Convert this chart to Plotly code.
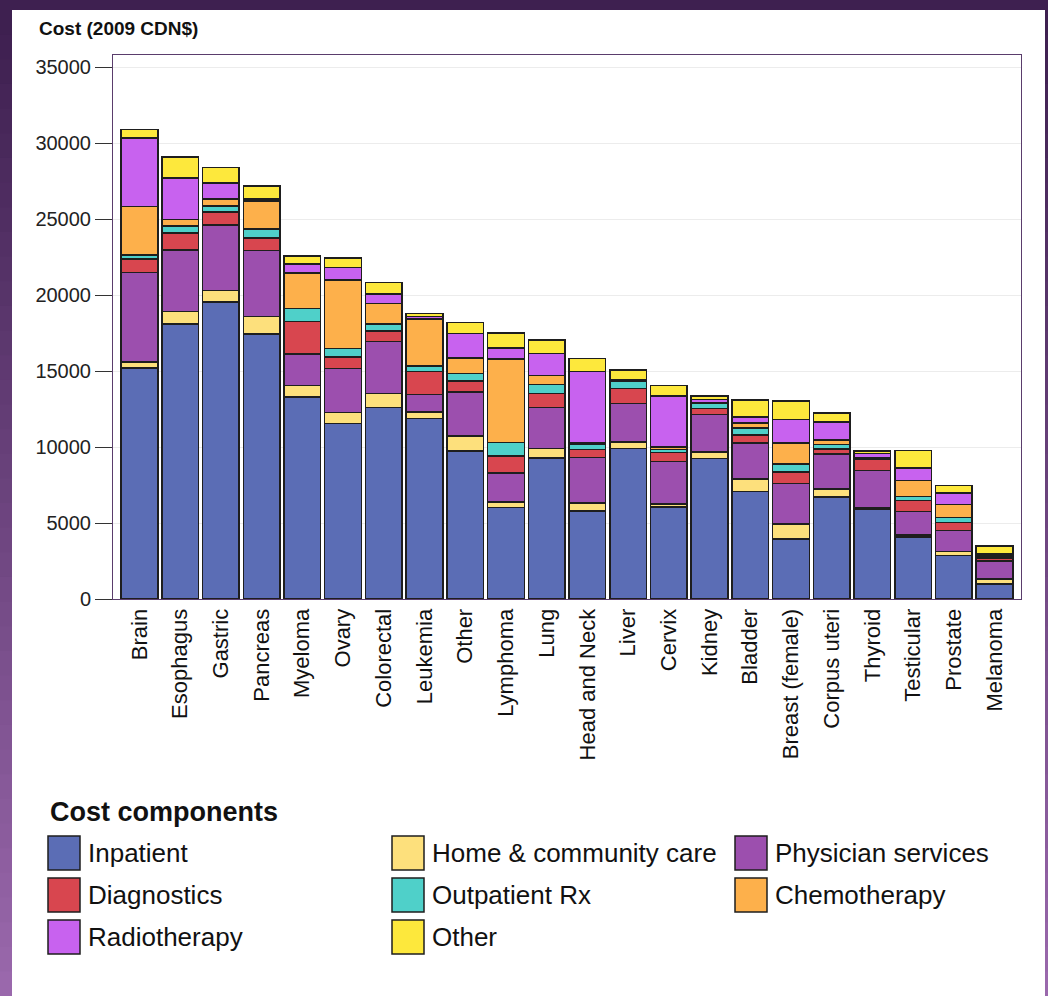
import plotly.graph_objects as go

categories = ["Brain", "Esophagus", "Gastric", "Pancreas", "Myeloma", "Ovary", "Colorectal",
              "Leukemia", "Other", "Lymphoma", "Lung", "Head and Neck", "Liver", "Cervix",
              "Kidney", "Bladder", "Breast (female)", "Corpus uteri", "Thyroid", "Testicular",
              "Prostate", "Melanoma"]

inpatient = [15200, 18100, 19570, 17440, 13300, 11560, 12600, 11890, 9730, 6030, 9290, 5810,
             9910, 6060, 9250, 7090, 3960, 6720, 5880, 4080, 2860, 990]
home_care = [400, 840, 730, 1170, 770, 710, 920, 420, 990, 360, 620, 510,
             440, 190, 440, 820, 970, 530, 110, 150, 260, 330]
physician = [5900, 4050, 4340, 4330, 2050, 2900, 3440, 1160, 2910, 1910, 2690, 3010,
             2510, 2820, 2460, 2370, 2670, 2310, 2480, 1540, 1390, 1190]
diagnostics = [900, 1100, 830, 840, 2150, 770, 700, 1500, 720, 1100, 920, 510,
               1010, 590, 400, 510, 770, 330, 710, 700, 530, 180]
outpatient_rx = [250, 460, 400, 590, 860, 550, 440, 370, 490, 920, 610, 330,
                 440, 180, 330, 480, 520, 280, 60, 290, 330, 100]
chemotherapy = [3200, 440, 480, 1830, 2320, 4530, 1360, 3090, 1030, 5470, 600, 110,
                70, 180, 50, 330, 1390, 290, 50, 1030, 840, 100]
radiotherapy = [4500, 2730, 1040, 150, 610, 820, 620, 180, 1610, 740, 1450, 4690,
                40, 3340, 210, 400, 1540, 1180, 290, 840, 770, 80]
other_cost = [550, 1390, 1010, 860, 510, 620, 770, 190, 730, 970, 860, 880,
              660, 710, 220, 1100, 1210, 620, 150, 1150, 480, 530]

y_ticks = [0, 5000, 10000, 15000, 20000, 25000, 30000, 35000]

series = [
    ("Inpatient", inpatient, "#5b6db5"),
    ("Home & community care", home_care, "#fde07c"),
    ("Physician services", physician, "#9c4fae"),
    ("Diagnostics", diagnostics, "#d8464f"),
    ("Outpatient Rx", outpatient_rx, "#4fd0c9"),
    ("Chemotherapy", chemotherapy, "#fdb04b"),
    ("Radiotherapy", radiotherapy, "#c862ef"),
    ("Other", other_cost, "#fde83c"),
]
legend_order = ["Inpatient", "Home & community care", "Physician services",
                "Diagnostics", "Outpatient Rx", "Chemotherapy",
                "Radiotherapy", "Other"]

FONT = "Liberation Sans, Arial, sans-serif"
W, H = 1048, 996
L, R, T, B = 113, 1021, 55, 599  # plot area in pixels


def fx(px):
    return (px - L) / (R - L)


def fy(py):
    return (B - py) / (B - T)


fig = go.Figure()
for name, vals, col in series:
    fig.add_trace(go.Bar(
        x=categories, y=vals, name=name,
        marker=dict(color=col, line=dict(color="#1e1e1e", width=1.5)),
        showlegend=False,
    ))

shapes = []
# white page area
shapes.append(dict(type="rect", xref="paper", yref="paper", layer="below",
                   x0=fx(12), x1=fx(1045), y0=fy(10), y1=fy(H),
                   fillcolor="white", line=dict(width=0)))
# purple gradient side strips
top_c = (62, 32, 80)
bot_c = (154, 104, 172)
n = 40
for i in range(n):
    t = i / (n - 1)
    c = tuple(int(top_c[k] + (bot_c[k] - top_c[k]) * t) for k in range(3))
    y0 = 10 + (H - 10) * i / n
    y1 = 10 + (H - 10) * (i + 1) / n + 1
    for xa, xb in ((0, 12), (1045, W)):
        shapes.append(dict(type="rect", xref="paper", yref="paper", layer="below",
                           x0=fx(xa), x1=fx(xb), y0=fy(y0), y1=fy(y1),
                           fillcolor="rgb(%d,%d,%d)" % c, line=dict(width=0)))

annotations = [
    dict(text="<b>Cost (2009 CDN$)</b>", xref="paper", yref="paper",
         x=fx(37), y=fy(28), xanchor="left", yanchor="middle", showarrow=False,
         font=dict(family=FONT, size=19, color="#111")),
    dict(text="<b>Cost components</b>", xref="paper", yref="paper",
         x=fx(48), y=fy(812), xanchor="left", yanchor="middle", showarrow=False,
         font=dict(family=FONT, size=27, color="#111")),
]

col_x = [48, 392, 735]
row_y = [836, 878, 920]
colors = {name: col for name, _, col in series}
for idx, name in enumerate(legend_order):
    r, c = divmod(idx, 3)
    x0 = col_x[c]
    y0 = row_y[r]
    shapes.append(dict(type="rect", xref="paper", yref="paper",
                       x0=fx(x0), x1=fx(x0 + 32), y0=fy(y0), y1=fy(y0 + 34),
                       fillcolor=colors[name], line=dict(color="#1e1e1e", width=1.5)))
    annotations.append(dict(text=name, xref="paper", yref="paper",
                            x=fx(x0 + 38), y=fy(y0 + 17), xanchor="left", yanchor="middle",
                            showarrow=False, font=dict(family=FONT, size=26, color="#111")))

fig.update_layout(
    barmode="stack",
    bargap=0.1,
    width=W, height=H,
    margin=dict(l=L, r=W - R, t=T, b=H - B, pad=0),
    paper_bgcolor="rgb(62,32,80)",
    plot_bgcolor="white",
    font=dict(family=FONT, color="#222"),
    shapes=shapes,
    annotations=annotations,
    xaxis=dict(
        range=[-0.65, 21.65],
        tickangle=-90,
        tickfont=dict(family=FONT, size=22, color="#111"),
        showline=True, linecolor="#5a3d6c", linewidth=1, mirror=True,
        ticks="", showgrid=False,
    ),
    yaxis=dict(
        range=[0, 35820],
        tickvals=y_ticks,
        ticktext=[str(v) for v in y_ticks],
        tickfont=dict(family=FONT, size=20, color="#222"),
        ticks="outside", ticklen=17, tickcolor="#333", tickwidth=1,
        showline=True, linecolor="#5a3d6c", linewidth=1, mirror=True,
        showgrid=True, gridcolor="#ececec", gridwidth=1,
        zeroline=False,
    ),
)

fig.write_html("out.html", config={"displayModeBar": False},
               post_script="document.body.style.margin='0';document.body.style.overflow='hidden';")
